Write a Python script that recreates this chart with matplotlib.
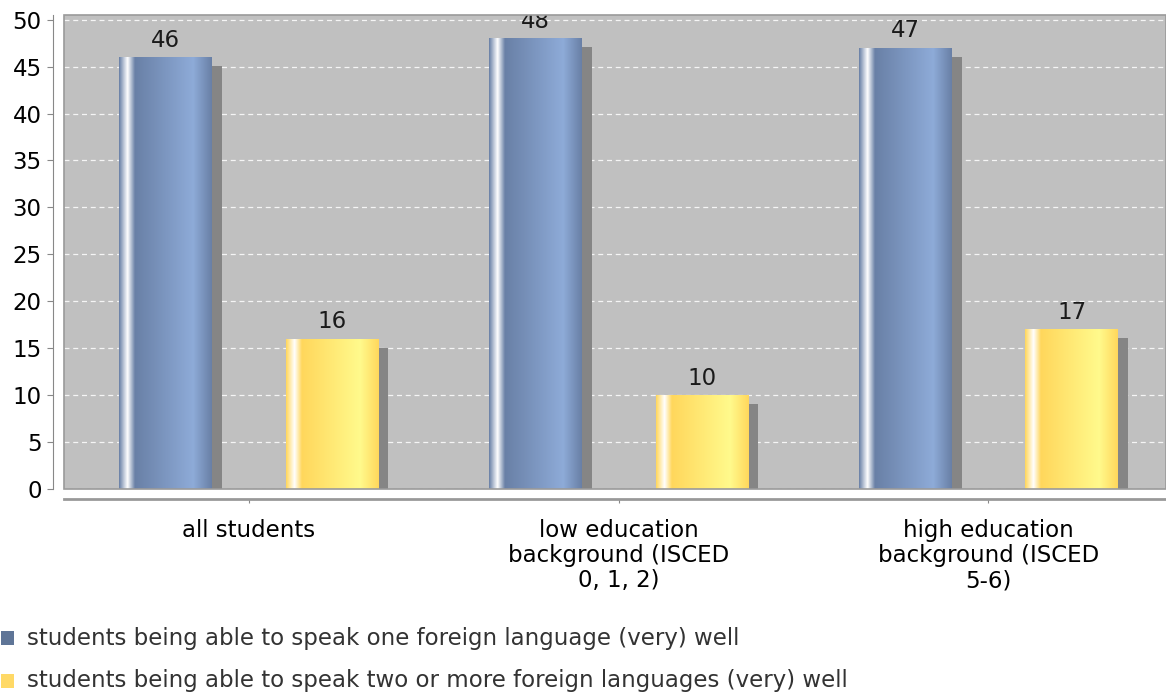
import matplotlib
matplotlib.use("Agg")
import matplotlib.pyplot as plt
import matplotlib.transforms as mtransforms
from matplotlib.patches import Rectangle
from matplotlib.colors import to_rgb
import numpy as np

# data
categories = ["all students",
              "low education\nbackground (ISCED\n0, 1, 2)",
              "high education\nbackground (ISCED\n5-6)"]
one_language = [46, 48, 47]
two_languages = [16, 10, 17]
series_names = ["students being able to speak one foreign language (very) well",
                "students being able to speak two or more foreign languages (very) well"]
y_ticks = [0, 5, 10, 15, 20, 25, 30, 35, 40, 45, 50]

W, H = 1166, 693
fig = plt.figure(figsize=(W / 100, H / 100), dpi=100)
fig.patch.set_facecolor("white")

# plot area in pixels: left 64, right 1166, top 15, bottom 489
ax = fig.add_axes([64 / W, (H - 489) / H, (1166 - 64) / W, (489 - 15) / H])
ax.set_facecolor("#c0c0c0")

fs = 16.5

def gradient_colors(base, bright):
    # jfreechart style gradient: base -> white -> base -> bright -> base
    stops = [0.0, 0.09, 0.17, 0.8, 1.0]
    cols = [to_rgb(base), (1, 1, 1), to_rgb(base), to_rgb(bright), to_rgb(base)]
    t = np.linspace(0, 1, 200)
    img = np.zeros((1, 200, 3))
    for k in range(3):
        img[0, :, k] = np.interp(t, stops, [c[k] for c in cols])
    return img

blue_img = gradient_colors("#6980a6", "#8eabd8")
yellow_img = gradient_colors("#ffd75c", "#fffa8c")

x = np.arange(len(categories))
bw = 0.25
off = 0.225

shadow_shift = mtransforms.ScaledTranslation(10 / 100, -9 / 100, fig.dpi_scale_trans)

for vals, dx, img in [(one_language, -off, blue_img), (two_languages, off, yellow_img)]:
    # shadows
    for xi, v in zip(x, vals):
        ax.add_patch(Rectangle((xi + dx - bw / 2, 0), bw, v, facecolor="#858585",
                               edgecolor="none", transform=ax.transData + shadow_shift,
                               zorder=2))
    bars = ax.bar(x + dx, vals, width=bw, color="none", edgecolor="none", zorder=3)
    for b, v in zip(bars, vals):
        bx, by = b.get_x(), b.get_y()
        im = ax.imshow(img, extent=[bx, bx + b.get_width(), by, by + b.get_height()],
                       aspect="auto", zorder=3, interpolation="bilinear")
        im.set_clip_path(b)
        t = ax.annotate(str(v), (bx + b.get_width() / 2, v), xytext=(0, 4),
                        textcoords="offset points", ha="center", va="bottom",
                        fontsize=fs, color="#1a1a1a", zorder=5)
        # value labels are cut at the plot area edge, like the original
        t.set_clip_on(True)
        t.set_clip_box(ax.bbox)

ax.set_xlim(-0.5, 2.48)
ax.set_ylim(0, 50.5)

# gridlines
ax.set_yticks(y_ticks)
ax.yaxis.grid(True, color="white", linestyle=(0, (4, 3)), linewidth=0.9, alpha=0.85)
ax.set_axisbelow(True)

# axes lines offset from plot area
for side in ["top", "right"]:
    ax.spines[side].set_visible(False)
ax.spines["left"].set_position(("outward", 8))
ax.spines["bottom"].set_position(("outward", 7.5))
ax.spines["left"].set_color("#888888")
ax.spines["bottom"].set_color("#999999")
ax.spines["bottom"].set_linewidth(2)

# plot frame
ax.add_patch(Rectangle((0, 0), 1, 1, transform=ax.transAxes, fill=False,
                       edgecolor="#9a9a9a", linewidth=1.2, zorder=6, clip_on=False))

ax.set_xticks(x)
ax.set_xticklabels(categories, fontsize=fs, linespacing=1.12)
ax.tick_params(axis="x", length=3, color="#888888", pad=11)
ax.tick_params(axis="y", length=4, color="#888888", pad=4, labelsize=fs)

# legend at bottom left
legend_colors = ["#5f7597", "#ffd966"]
legend_y = [638, 681]
for name, col, py in zip(series_names, legend_colors, legend_y):
    fig.patches.append(Rectangle((1 / W, (H - py - 7) / H), 13 / W, 14 / H,
                                 transform=fig.transFigure, facecolor=col,
                                 edgecolor="none"))
    fig.text(27 / W, (H - py) / H, name, fontsize=fs, va="center", ha="left",
             color="#333333")

fig.savefig("out.png", dpi=100)
